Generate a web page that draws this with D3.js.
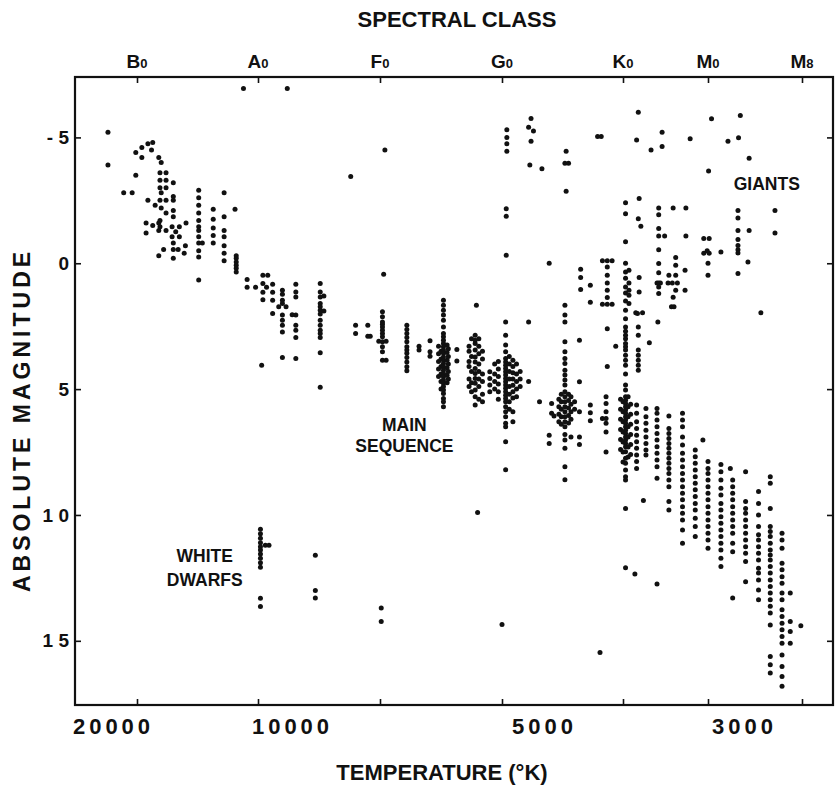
<!DOCTYPE html>
<html>
<head>
<meta charset="utf-8">
<script src="https://cdn.jsdelivr.net/npm/d3@7"></script>
<style>
body{margin:0;background:#fff;}
svg text{font-family:"Liberation Sans",Arial,Helvetica,sans-serif;font-weight:bold;fill:#111;}
</style>
</head>
<body>
<div id="chart"></div>
<script>
// spectral class ticks: index 0 = B0, 10 = A0, 20 = F0, 30 = G0, 40 = K0, 50 = M0, 58 = M8
var classIndex = [0, 10, 20, 30, 40, 50, 58];
var classLetter = ["B", "A", "F", "G", "K", "M", "M"];
var classSub = ["0", "0", "0", "0", "0", "0", "8"];
var tempTicks = [20000, 10000, 5000, 3000];
var magTicks = [-5, 0, 5, 10, 15];

// stars as [spectral index, [absolute magnitudes...]]
var mainSequence = [
	[-2.4,[-5.2,-3.9]],[-1.1,[-2.8]],[-0.4,[-2.8]],[-0.1,[-4.4,-3.5]],[0.4,[-4.6,-4.2]],
	[0.75,[-1.6,-1.2]],[0.9,[-4.75,-2.5]],[1.2,[-4.5]],[1.3,[-4.8,-1.5]],[1.5,[-2.3]],
	[1.8,[-4.2,-1.6,-1.3,-0.3]],[1.9,[-3.6,-3.3,-3.0,-2.5,-1.7,-1.45]],[2.0,[-4.0,-2.8,-2.2]],
	[2.2,[-0.55]],[2.4,[-3.6,-3.3,-3.0,-2.5,-2.0,-1.3]],
	[2.9,[-1.45,-1.05]],[3.0,[-3.2,-2.65,-2.5,-2.1,-1.85,-0.8,-0.55,-0.2]],[3.2,[-1.25]],[3.5,[-1.45,-1.05]],
	[3.4,[-0.55]],[3.9,[-0.4]],[4.0,[-0.7]],[4.05,[-1.6]],
	[5.1,[-2.9,-2.6,-2.3,-2.0,-1.7,-1.45,-1.3,-1.05,-0.8,-0.5,-0.25,0.67]],[5.4,[-0.8]],
	[6.3,[-2.15,-1.75,-1.4,-1.1,-0.8]],[7.2,[-2.8,-1.85,-1.3,-1.05,-0.7,-0.4,-0.1]],
	[8.1,[-2.15]],[8.2,[-0.3,-0.2,-0.05,0.08,0.2,0.35]],
	[9.1,[0.65,0.95]],[9.8,[0.95]],[10.4,[0.48,0.8,1.15,1.45]],[10.3,[4.05]],[10.7,[0.95]],[10.8,[0.48]],
	[11.2,[0.83,1.15,1.47,2.0]],[11.7,[1.73]],[12.0,[1.07,1.23,1.47,1.6,2.06,2.26,2.46,2.73,3.74]],[12.3,[1.73]],
	[12.8,[2.05]],[13.1,[0.83,1.14,1.34,2.06,2.46,2.66,2.95,3.78]],
	[15.1,[0.8,1.14,1.34,1.6,1.73,1.87,2.02,2.26,2.46,2.66,2.79,2.95,3.56,4.93]],[15.4,[1.3,1.9]],
	[18.0,[2.46,2.79]],[19.0,[2.46,2.9]],[19.2,[2.9]],[19.9,[3.1]],
	[20.2,[1.93,2.13,2.33,2.42,2.53,2.66,2.79,2.92,3.12,3.32,3.52,3.85]],[20.5,[3.1,3.85]],[20.3,[0.44]],
	[22.2,[2.46,2.63,2.79,2.95,3.12,3.32,3.45,3.58,3.74,3.92,4.11,4.27]],[23.2,[3.3,3.45]],[24.1,[3.08,3.52,3.69]],
	[24.8,[3.3,3.6,3.9,4.2,4.5]],[25.0,[3.5,3.8,4.1,4.4,4.7,5.0]],
	[25.2,[1.47,1.67,1.87,2.06,2.26,2.53,2.79,2.92,3.06,3.19,3.32,3.45,3.58,3.72,3.85,3.98,4.11,4.25,4.38,4.51,4.64,4.77,4.9,5.04,5.17,5.37,5.5,5.7]],
	[25.5,[3.25,3.55,3.85,4.15,4.45,4.75]],[25.6,[3.4,3.7,4.0,4.3,4.6]],[26.3,[3.43,3.88]],
	[27.3,[3.3,3.5,3.9,4.1,4.6,4.9]],[27.5,[3.0,3.7,4.3,4.75,5.1]],
	[27.8,[2.86,3.06,3.19,3.45,3.72,3.92,4.18,4.38,4.58,4.77,5.04,5.3,5.63]],
	[27.9,[1.67]],[28.0,[9.9]],[28.1,[3.0,3.3,3.6,4.0,4.3,4.6,4.9,5.4]],[28.4,[3.5,3.8,4.4,4.7,5.2,5.5]],
	[29.0,[4.31,4.58,4.84,5.1]],[29.4,[4.0,4.4,4.7,5.0]],[29.7,[3.9,4.2,4.5,4.8,5.1,5.4]],
	[30.3,[2.33,2.86,3.25,3.52,3.78,3.92,4.05,4.18,4.31,4.44,4.58,4.71,4.84,4.97,5.1,5.24,5.37,5.5,5.7,5.9,6.1,6.36,6.5,7.09,8.2]],
	[30.6,[3.7,4.0,4.3,4.6,4.9,5.2,5.5,5.8]],[30.9,[3.85,4.1,4.35,4.6,4.85,5.1,5.35,5.9,6.3]],
	[31.2,[4.0,4.4,4.7,5.0,5.3]],[31.5,[4.3,4.6,4.9]],[32.2,[2.33,4.7]],[33.1,[5.5]],
	[33.9,[6.83,7.16]],[34.1,[5.57,5.96]],[34.3,[6.07]],[34.7,[5.4,5.7,6.0,6.3]],[34.9,[5.2,5.5,5.8,6.1,6.4]],
	[35.2,[1.67,2.06,2.33,3.12,3.52,3.78,3.98,4.25,4.44,4.64,4.84,5.1,5.3,5.5,5.7,5.9,6.1,6.3,6.5,6.8,7.02,7.35,8.08,8.6]],
	[35.5,[5.2,5.45,5.75,6.05,6.35]],[35.7,[5.3,5.6,5.9,6.2,6.9]],[36.0,[5.5,5.8]],[36.4,[3.06,4.71,5.9,6.9,7.2]],
	[37.3,[5.63,5.94,6.26]],[38.3,[6.17]],[38.6,[5.3,5.57,5.9,6.17,6.36,6.7,7.5]],[38.7,[2.6,4.1]],[39.4,[3.3]],
	[39.8,[5.4,5.8,6.2,6.6,7.0,7.4]],[40.0,[5.5,5.9,6.3,6.7,7.1,7.5,7.9]],
	[40.3,[2.2,2.53,2.7,2.86,3.0,3.19,3.32,3.45,3.65,3.85,4.05,4.4,4.84,5.04,5.3,5.44,5.57,5.7,5.83,5.96,6.1,6.23,6.36,6.5,6.63,6.76,6.9,7.02,7.16,7.29,7.49,7.75,7.95,8.21,8.48,8.61,9.74,12.1]],
	[40.6,[5.3,5.7,6.1,6.5,6.9,7.3,7.7]],[40.9,[5.6,6.0,6.4,6.8,7.2,7.6]],[41.4,[12.35]],
	[41.6,[5.63,5.96,6.3,6.56,6.83,7.09,7.35,7.62,7.88,8.15]],
	[41.8,[2.53,2.86,3.45,3.65,3.85,4.05,4.25]],[42.4,[9.43]],
	[42.7,[5.77,6.1,6.36,6.63,6.9,7.16,7.42,7.62]],[43.1,[3.16]],[44.1,[2.33]],
	[44.0,[5.77,5.96,6.23,6.5,6.76,7.02,7.29,7.55,7.82,8.08,8.54,12.74]],
	[45.4,[6.07,6.56,6.76,6.96,7.16,7.35,7.55,7.75,7.95,8.15,8.35,8.61,8.88,9.47,9.8]],
	[47.0,[5.96,6.23,6.5,6.9,7.22,7.55,7.82,8.08,8.35,8.61,8.88,9.14,9.4,9.67,9.93,10.2,10.6,11.12]],
	[48.5,[7.42,7.69,7.95,8.21,8.48,8.74,9.0,9.27,9.54,9.8,10.13,10.46,10.86]],[49.4,[7.02]],
	[50.0,[7.88,8.15,8.35,8.61,8.88,9.14,9.4,9.67,9.93,10.2,10.46,10.73,10.99,11.32]],
	[51.1,[8.0,8.28,8.61,8.94,9.21,9.54,9.8,10.07,10.33,10.6,10.86,11.12,11.39,11.72,12.05]],[51.9,[8.15]],
	[52.1,[8.61,8.88,9.14,9.4,9.67,9.93,10.2,10.46,10.73,11.12,11.46,13.3]],
	[53.2,[8.28,9.47,9.74,9.93,10.2,10.46,10.73,10.99,11.26,11.52,11.85,12.65]],
	[54.3,[9.07,9.54,10.0,10.46,10.79,10.99,11.26,11.52,11.79,12.12,12.31,12.58,12.98,13.37]],
	[55.3,[8.48,8.74,9.74,10.46,10.66,10.86,11.12,11.39,11.59,11.79,12.05,12.31,12.58,12.84,13.1,13.37,13.63,13.89,14.37,15.62,15.95,16.28]],
	[56.3,[10.73,10.99,11.32,11.92,12.18,12.45,12.71,13.1,13.37,13.77,14.03,14.3,14.56,14.83,15.1,15.56,16.02,16.42,16.81]],
	[57.0,[13.1,14.23,14.63,15.1]],[57.9,[14.4]],[38.1,[15.46]],[30.0,[14.35]]
];

var giants = [
	[8.8,[-6.94]],[12.4,[-6.94]],[17.6,[-3.45]],[20.4,[-4.5]],
	[30.4,[-5.3,-5.0,-4.75,-4.45]],[30.35,[-2.17,-1.87,-0.32]],
	[32.2,[-5.4]],[32.4,[-5.75,-4.85]],[32.6,[-5.25]],[32.3,[-3.9]],[33.3,[-3.75]],[33.9,[0.0]],
	[35.3,[-4.45,-2.86]],[35.2,[-3.97]],[35.5,[-3.97]],[36.5,[0.24,0.57,1.04]],[37.3,[0.87,1.55]],
	[37.9,[-5.04]],[38.2,[-5.04]],[38.3,[-0.1,1.63]],[38.7,[-0.1,0.15,0.48,0.78,1.07,1.36,1.63]],[39.1,[-0.1,1.63]],
	[40.3,[-2.4,-1.97,-0.85,0.0,0.35,0.6,0.94,1.18,1.5,1.87]],[40.7,[0.28,0.78,1.07,1.27,1.6]],
	[41.5,[1.97]],[41.7,[2.0]],[42.3,[1.97]],
	[41.6,[-4.9]],[41.8,[-6.0,-1.77]],[41.9,[-2.57,0.57,1.14]],[42.1,[-1.47]],
	[43.3,[-4.5]],[44.6,[-5.2,-4.64]],[44.0,[0.78]],[44.4,[0.78]],
	[44.2,[-2.2,-1.93,-1.38,-1.08,-0.54,0.01,0.38,0.78,0.94,1.2]],[44.9,[-1.08]],
	[45.3,[0.78]],[45.4,[0.48]],[45.7,[1.73]],[45.8,[0.78]],[45.9,[-2.2,1.35]],[46.0,[1.73]],
	[46.2,[-0.23,0.08,0.48,1.07]],[46.4,[0.78]],[47.3,[0.28,1.07]],[47.4,[-2.2,-1.08]],[47.9,[-4.95]],
	[49.5,[-0.98,-0.4]],[49.9,[-0.5]],[50.0,[0.0,0.48]],[50.05,[-3.67]],[50.1,[-0.98,-0.4]],
	[50.3,[-5.74]],[51.1,[-0.45]],[51.7,[-4.85]],
	[52.55,[-2.1,-1.8,-1.3,-0.94,-0.71,-0.54,-0.41,0.41]],[52.6,[-4.99]],[52.75,[-5.87]],
	[53.4,[-0.05]],[53.5,[-4.17,-1.3]],[54.5,[1.97]],[55.7,[-2.1,-1.2]]
];

var whiteDwarfs = [
	[10.2,[10.57,10.75,10.93,11.1,11.26,11.39,11.55,11.72,11.9,12.08,13.31,13.64]],
	[10.6,[11.2]],[10.9,[11.2]],[14.7,[11.6,13.0,13.3]],[20.1,[13.7,14.23]]
];

var W = 838, H = 788;
var svg = d3.select("#chart").append("svg").attr("width", W).attr("height", H);

var x = d3.scaleLinear().domain(classIndex).range([137, 258, 380, 502, 623, 708, 802]);
var y = d3.scaleLinear().domain([-7.4, 17.55]).range([77, 705]);
var t = d3.scaleLog().domain(tempTicks).range([113, 292, 544, 744]);

function spaced(d){
	return d < 0 ? "- " + (-d) : String(d).split("").join(" ");
}

// frame
svg.append("rect")
	.attr("x", 75).attr("y", y.range()[0])
	.attr("width", 758).attr("height", y.range()[1] - y.range()[0])
	.attr("fill", "none").attr("stroke", "#111").attr("stroke-width", 2.2);

function tickAxis(g){
	g.select(".domain").remove();
	g.selectAll(".tick line").attr("stroke", "#111").attr("stroke-width", 1.6);
}

svg.append("g").attr("transform", "translate(75,0)")
	.call(d3.axisLeft(y).tickValues(magTicks).tickSize(-6).tickPadding(6).tickFormat(spaced))
	.call(tickAxis)
	.selectAll("text").style("font-size", "19px").style("font-family", null);
svg.append("g").attr("transform", "translate(833,0)")
	.call(d3.axisRight(y).tickValues(magTicks).tickSize(-6).tickFormat(""))
	.call(tickAxis);
svg.append("g").attr("transform", "translate(0,705)")
	.call(d3.axisBottom(x).tickValues(classIndex).tickSize(-6).tickFormat(""))
	.call(tickAxis);
svg.append("g").attr("transform", "translate(0,77)")
	.call(d3.axisTop(x).tickValues(classIndex).tickSize(-6).tickFormat(""))
	.call(tickAxis);

// temperature labels
var tAxis = svg.append("g").attr("transform", "translate(0,718)")
	.call(d3.axisBottom(t).tickValues(tempTicks).tickSize(0).tickPadding(0).tickFormat(d3.format("d")));
tAxis.select(".domain").remove();
tAxis.selectAll("text").attr("dy", "0.71em").style("font-size", "22px").style("letter-spacing", "4px").style("font-family", null);

// spectral class labels
var cl = svg.append("g").selectAll("text").data(classIndex).enter().append("text")
	.attr("x", function(d){ return x(d); })
	.attr("y", 68)
	.attr("text-anchor", "middle")
	.style("font-size", "19px");
cl.append("tspan").text(function(d, i){ return classLetter[i]; });
cl.append("tspan").style("font-size", "13px").text(function(d, i){ return classSub[i]; });

// titles
svg.append("text").attr("x", 457).attr("y", 27).attr("text-anchor", "middle")
	.style("font-size", "22px").text("SPECTRAL CLASS");
svg.append("text").attr("x", 442).attr("y", 780).attr("text-anchor", "middle")
	.style("font-size", "22px").text("TEMPERATURE (°K)");
svg.append("text").attr("transform", "translate(30,420) rotate(-90)").attr("text-anchor", "middle")
	.style("font-size", "23px").style("letter-spacing", "4px").text("ABSOLUTE MAGNITUDE");

// stars
var stars = [].concat(mainSequence, giants, whiteDwarfs).flatMap(function(g){
	return g[1].map(function(m){ return {s: g[0], m: m}; });
});
svg.append("g").selectAll("circle").data(stars).enter().append("circle")
	.attr("cx", function(d){ return x(d.s); })
	.attr("cy", function(d){ return y(d.m); })
	.attr("r", 2.5)
	.attr("fill", "#111");

// region labels
var notes = [
	{t: "GIANTS", s: 55.0, m: -2.9},
	{t: "MAIN", s: 22.0, m: 6.65},
	{t: "SEQUENCE", s: 22.0, m: 7.5},
	{t: "WHITE", s: 5.6, m: 11.87},
	{t: "DWARFS", s: 5.6, m: 12.82}
];
svg.append("g").selectAll("text").data(notes).enter().append("text")
	.attr("x", function(d){ return x(d.s); })
	.attr("y", function(d){ return y(d.m); })
	.attr("text-anchor", "middle")
	.style("font-size", "17.5px")
	.text(function(d){ return d.t; });
</script>
</body>
</html>
